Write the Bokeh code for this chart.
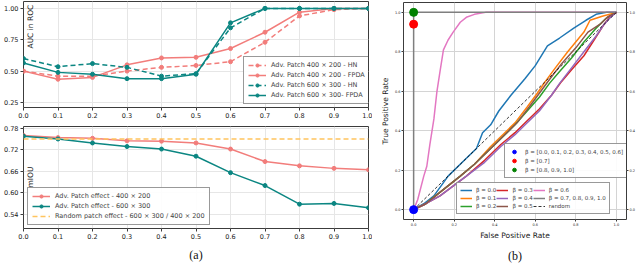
import math
from bokeh.plotting import figure
from bokeh.layouts import row, column
from bokeh.models import (Legend, LegendItem, Label, FixedTicker, PrintfTickFormatter,
                          LinearAxis, Range1d)
from bokeh.embed import file_html
from bokeh.resources import INLINE

F = "DejaVu Sans"
SERIF = "Liberation Serif"

# ---------------- data: panel (a) ----------------
beta = [0.0, 0.1, 0.2, 0.3, 0.4, 0.5, 0.6, 0.7, 0.8, 0.9, 1.0]
auc_400_hn = [0.50, 0.46, 0.46, 0.50, 0.53, 0.545, 0.575, 0.73, 0.94, 0.99, 1.0]
auc_400_fpda = [0.50, 0.435, 0.45, 0.55, 0.605, 0.61, 0.68, 0.81, 0.97, 1.0, 1.0]
auc_600_hn = [0.60, 0.535, 0.56, 0.53, 0.46, 0.48, 0.845, 1.0, 1.0, 1.0, 1.0]
auc_600_fpda = [0.565, 0.49, 0.475, 0.44, 0.44, 0.475, 0.885, 1.0, 1.0, 1.0, 1.0]
auc_ticks = [0.25, 0.50, 0.75, 1.00]
auc_labels = ["Adv. Patch 400 \u00d7 200 - HN", "Adv. Patch 400 \u00d7 200 - FPDA",
              "Adv. Patch 600 \u00d7 300 - HN", "Adv. Patch 600 \u00d7 300- FPDA"]

miou_400 = [0.760, 0.754, 0.752, 0.745, 0.744, 0.739, 0.722, 0.687, 0.675, 0.668, 0.664]
miou_600 = [0.758, 0.750, 0.739, 0.729, 0.722, 0.702, 0.656, 0.620, 0.568, 0.570, 0.558]
miou_random = [0.750, 0.750]
miou_random_x = [0.0, 1.0]
miou_ticks = [0.54, 0.60, 0.66, 0.72, 0.78]
miou_labels = ["Adv. Patch effect - 400 \u00d7 200", "Adv. Patch effect - 600 \u00d7 300",
               "Random patch effect - 600 \u00d7 300 / 400 \u00d7 200"]

# ---------------- data: panel (b) ROC ----------------
fpr_b00 = [0, 0.05, 0.10, 0.17, 0.25, 0.31, 0.34, 0.38, 0.42, 0.48, 0.55, 0.60, 0.66, 0.72, 0.79, 0.85, 0.90, 0.95, 1.0]
tpr_b00 = [0, 0.03, 0.07, 0.17, 0.25, 0.31, 0.39, 0.43, 0.50, 0.58, 0.665, 0.73, 0.83, 0.87, 0.92, 0.96, 0.99, 1.0, 1.0]
fpr_b01 = [0, 0.06, 0.12, 0.23, 0.30, 0.38, 0.45, 0.50, 0.56, 0.61, 0.65, 0.70, 0.76, 0.84, 0.87, 0.93, 1.0]
tpr_b01 = [0, 0.03, 0.08, 0.17, 0.23, 0.32, 0.39, 0.44, 0.52, 0.59, 0.65, 0.72, 0.80, 0.90, 0.96, 0.98, 1.0]
fpr_b02 = [0, 0.06, 0.12, 0.23, 0.30, 0.38, 0.45, 0.50, 0.56, 0.62, 0.67, 0.72, 0.78, 0.84, 0.90, 0.95, 1.0]
tpr_b02 = [0, 0.03, 0.08, 0.17, 0.23, 0.31, 0.38, 0.43, 0.50, 0.57, 0.64, 0.70, 0.77, 0.85, 0.92, 0.97, 1.0]
fpr_b03 = [0, 0.06, 0.13, 0.26, 0.35, 0.43, 0.50, 0.55, 0.62, 0.68, 0.73, 0.78, 0.84, 0.89, 0.94, 0.97, 1.0]
tpr_b03 = [0, 0.03, 0.07, 0.17, 0.25, 0.33, 0.39, 0.44, 0.51, 0.58, 0.65, 0.71, 0.78, 0.86, 0.94, 0.98, 1.0]
fpr_b04 = [0, 0.06, 0.13, 0.26, 0.35, 0.43, 0.50, 0.55, 0.62, 0.68, 0.72, 0.78, 0.84, 0.90, 0.94, 0.97, 1.0]
tpr_b04 = [0, 0.03, 0.07, 0.17, 0.24, 0.32, 0.38, 0.43, 0.50, 0.58, 0.64, 0.72, 0.80, 0.88, 0.94, 0.975, 1.0]
fpr_b05 = [0, 0.06, 0.12, 0.23, 0.30, 0.38, 0.46, 0.51, 0.57, 0.62, 0.67, 0.73, 0.80, 0.86, 0.92, 0.96, 1.0]
tpr_b05 = [0, 0.03, 0.08, 0.17, 0.23, 0.31, 0.39, 0.44, 0.52, 0.59, 0.66, 0.74, 0.82, 0.90, 0.94, 0.98, 1.0]
fpr_b06 = [0, 0.02, 0.05, 0.065, 0.08, 0.10, 0.115, 0.13, 0.147, 0.17, 0.195, 0.23, 0.26, 0.30, 0.355, 1.0]
tpr_b06 = [0, 0.05, 0.17, 0.22, 0.33, 0.46, 0.60, 0.70, 0.81, 0.86, 0.90, 0.95, 0.975, 0.99, 1.0, 1.0]
fpr_b07 = [0.0, 0.0, 1.0]
tpr_b07 = [0.0, 1.0, 1.0]
fpr_rand = [0.0, 1.0]
tpr_rand = [0.0, 1.0]
dot_fpr = [0.0, 0.0, 0.0]
dot_tpr = [0.0, 0.94, 1.0]
dot_labels = ["\u03b2 = [0.0, 0.1, 0.2, 0.3, 0.4, 0.5, 0.6]", "\u03b2 = [0.7]", "\u03b2 = [0.8, 0.9, 1.0]"]
roc_ticks = [0.0, 0.2, 0.4, 0.6, 0.8, 1.0]
roc_names = ["\u03b2 = 0.0", "\u03b2 = 0.1", "\u03b2 = 0.2", "\u03b2 = 0.3", "\u03b2 = 0.4",
             "\u03b2 = 0.5", "\u03b2 = 0.6", "\u03b2 = 0.7, 0.8, 0.9, 1.0", "random"]

SAL = "#f27d7b"
TEAL = "#0b8682"
ORG = "#ffc45e"
TAB = ["#1f77b4", "#ff7f0e", "#2ca02c", "#d62728", "#9467bd", "#8c564b", "#e377c2", "#7f7f7f"]


def base(p, grid_color, tick_fs):
    p.outline_line_color = "#3c3c3c"
    p.outline_line_width = 1
    p.xgrid.grid_line_color = grid_color
    p.ygrid.grid_line_color = grid_color
    p.border_fill_color = "white"
    for ax in p.axis:
        ax.axis_line_color = None
        ax.major_tick_line_color = "#3c3c3c"
        ax.major_tick_out = 3
        ax.major_tick_in = 0
        ax.minor_tick_line_color = None
        ax.major_label_text_font = F
        ax.major_label_text_font_size = tick_fs
        ax.major_label_text_color = "#1a1a1a"
        ax.major_label_standoff = 2


def legend_style(leg, fs, gw, gh, lh, sp, pad):
    leg.label_text_font = F
    leg.label_text_font_size = fs
    leg.glyph_width = gw
    leg.glyph_height = gh
    leg.label_height = lh
    leg.spacing = sp
    leg.padding = pad
    leg.margin = 0
    leg.label_standoff = 5
    leg.border_line_color = "#333333"
    leg.border_line_width = 1
    leg.background_fill_alpha = 0.9


def caption_axis(p, text, standoff):
    ax = LinearAxis(ticker=FixedTicker(ticks=[]), axis_line_color=None,
                    major_tick_line_color=None, minor_tick_line_color=None,
                    major_tick_out=0, major_label_standoff=0,
                    axis_label=text, axis_label_standoff=standoff,
                    axis_label_text_font=SERIF, axis_label_text_font_size="12px",
                    axis_label_text_font_style="normal", axis_label_text_color="#111111")
    p.add_layout(ax, "below")


# ---------------- (a) top : AUC ----------------
pa = figure(width=372, height=124, x_range=Range1d(0, 1), y_range=Range1d(0.21, 1.055),
            output_backend="svg", toolbar_location=None,
            min_border_left=23, min_border_right=4, min_border_top=1, min_border_bottom=17)
base(pa, "#e6e6e6", "6.5px")
pa.xaxis.ticker = FixedTicker(ticks=beta)
pa.xaxis.formatter = PrintfTickFormatter(format="%.1f")
pa.yaxis.ticker = FixedTicker(ticks=auc_ticks)
pa.yaxis.formatter = PrintfTickFormatter(format="%.2f")

items = []
for ys, col, dash, lab in [(auc_400_hn, SAL, "5 3", auc_labels[0]),
                           (auc_400_fpda, SAL, "solid", auc_labels[1]),
                           (auc_600_hn, TEAL, "5 3", auc_labels[2]),
                           (auc_600_fpda, TEAL, "solid", auc_labels[3])]:
    rl = pa.line(beta, ys, line_color=col, line_width=1.5, line_dash=dash)
    rs = pa.scatter(beta, ys, color=col, size=4)
    items.append(LegendItem(label=lab, renderers=[rl, rs]))
leg_a = Legend(items=items, location=(220, 3))
legend_style(leg_a, "6.5px", 18, 8, 8, 2, 4)
pa.add_layout(leg_a)
pa.add_layout(Label(x=7, y=59, x_units="screen", y_units="screen", text="AUC in ROC",
                    angle=math.pi / 2, text_font=F, text_font_size="7.5px",
                    text_baseline="middle", text_align="left", text_color="#1a1a1a"))

# ---------------- (a) bottom : mIOU ----------------
pb = figure(width=372, height=140, x_range=Range1d(0, 1), y_range=Range1d(0.50, 0.785),
            output_backend="svg", toolbar_location=None,
            min_border_left=23, min_border_right=4, min_border_top=2, min_border_bottom=30)
base(pb, "#e6e6e6", "6.5px")
pb.xaxis.ticker = FixedTicker(ticks=beta)
pb.xaxis.formatter = PrintfTickFormatter(format="%.1f")
pb.yaxis.ticker = FixedTicker(ticks=miou_ticks)
pb.yaxis.formatter = PrintfTickFormatter(format="%.2f")

items_b = []
for ys, col, lab in [(miou_400, SAL, miou_labels[0]), (miou_600, TEAL, miou_labels[1])]:
    rl = pb.line(beta, ys, line_color=col, line_width=1.5)
    rs = pb.scatter(beta, ys, color=col, size=4)
    items_b.append(LegendItem(label=lab, renderers=[rl, rs]))
rr = pb.line(miou_random_x, miou_random, line_color=ORG, line_width=1.5, line_dash="5 3")
items_b.append(LegendItem(label=miou_labels[2], renderers=[rr]))
leg_b = Legend(items=items_b, location=(4, 3))
legend_style(leg_b, "6.5px", 18, 8, 8, 2, 4)
pb.add_layout(leg_b)
pb.add_layout(Label(x=7, y=41, x_units="screen", y_units="screen", text="mIOU",
                    angle=math.pi / 2, text_font=F, text_font_size="7.5px",
                    text_baseline="middle", text_align="left", text_color="#1a1a1a"))
caption_axis(pb, "(a)", 6)

# ---------------- (b) ROC ----------------
pc = figure(width=266, height=265, x_range=Range1d(-0.05, 1.05), y_range=Range1d(-0.05, 1.05),
            output_backend="svg", toolbar_location=None,
            min_border_left=31, min_border_right=8, min_border_top=2, min_border_bottom=40)
pc.add_layout(LinearAxis(), "right")
base(pc, "#d4d4d4", "3.5px")
for ax in pc.axis:
    ax.ticker = FixedTicker(ticks=roc_ticks)
    ax.formatter = PrintfTickFormatter(format="%.1f")
    ax.major_tick_out = 2
    ax.major_label_standoff = 1
pc.xaxis.axis_label = "False Positive Rate"
pc.yaxis[0].axis_label = "True Positive Rate"
for ax in [pc.xaxis[0], pc.yaxis[0]]:
    ax.axis_label_text_font = F
    ax.axis_label_text_font_size = "7.5px"
    ax.axis_label_text_font_style = "normal"
    ax.axis_label_standoff = 2
    ax.axis_label_text_color = "#1a1a1a"
caption_axis(pc, "(b)", 6)

roc = [(fpr_b00, tpr_b00), (fpr_b01, tpr_b01), (fpr_b02, tpr_b02), (fpr_b03, tpr_b03),
       (fpr_b04, tpr_b04), (fpr_b05, tpr_b05), (fpr_b06, tpr_b06), (fpr_b07, tpr_b07)]
rends = []
for (fx, ty), col in zip(roc, TAB):
    rends.append(pc.line(fx, ty, line_color=col, line_width=1.5))
rends.append(pc.line(fpr_rand, tpr_rand, line_color="black", line_width=0.8, line_dash="3 2"))
dots = []
for i, col in enumerate(["#0000ff", "#ff0000", "#008000"]):
    dots.append(pc.scatter([dot_fpr[i]], [dot_tpr[i]], color=col, size=8))

leg_c1 = Legend(items=[LegendItem(label=dot_labels[i], renderers=[dots[i]]) for i in range(3)],
                location=(101, 41))
legend_style(leg_c1, "5.5px", 12, 9, 8, 0, 3)
pc.add_layout(leg_c1)

leg_c2 = Legend(items=[LegendItem(label=roc_names[i], renderers=[rends[i]]) for i in range(9)],
                location=(53, 5), nrows=3, orientation="vertical")
legend_style(leg_c2, "5.5px", 12, 8, 8, 0, 3)
leg_c2.label_standoff = 4
pc.add_layout(leg_c2)

layout = row(column(pa, pb), pc)
open("out.html", "w").write(file_html(layout, INLINE))
